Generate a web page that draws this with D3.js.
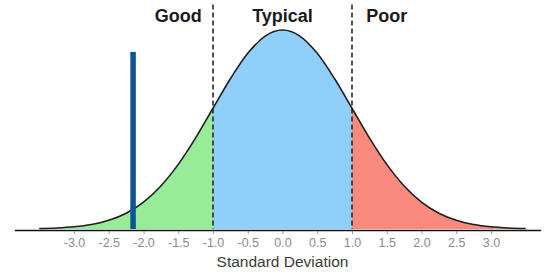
<!DOCTYPE html>
<html>
<head>
<meta charset="utf-8">
<script src="https://cdn.jsdelivr.net/npm/d3@7"></script>
<style>
  html, body { margin: 0; padding: 0; background: #fff; }
  svg { display: block; }
</style>
</head>
<body>
<script>
// ---- data ----
const sdPoints = [-3.5,-3.25,-3,-2.75,-2.5,-2.25,-2,-1.75,-1.5,-1.25,-1,-0.75,-0.5,-0.25,0,0.25,0.5,0.75,1,1.25,1.5,1.75,2,2.25,2.5,2.75,3,3.25,3.5];
const density  = [0.0009,0.0020,0.0044,0.0091,0.0175,0.0317,0.0540,0.0863,0.1295,0.1826,0.2420,0.3011,0.3521,0.3867,0.3989,0.3867,0.3521,0.3011,0.2420,0.1826,0.1295,0.0863,0.0540,0.0317,0.0175,0.0091,0.0044,0.0020,0.0009];
const tickValues = [-3,-2.5,-2,-1.5,-1,-0.5,0,0.5,1,1.5,2,2.5,3];
const regionNames = ["Good","Typical","Poor"];
const regionBounds = [[-3.5,-1],[-1,1],[1,3.5]];
const regionLabelX = [-1.5, 0, 1.5];
const regionColors = ["#98ec98","#8fcffa","#fa8a7d"];
const cutoffs = [-1, 1];
const cutoffTop = 0.45;
const markerX = -2.15;
const markerTop = 0.355;
const axisExtent = [-3.85, 3.72];
const xTitle = "Standard Deviation";

// ---- layout ----
const W = 549, H = 274;
const svg = d3.select("body").append("svg").attr("width", W).attr("height", H);

const x = d3.scaleLinear().domain([-3.5, 3.5]).range([39.25, 525.75]);
const y = d3.scaleLinear().domain([0, 0.3989]).range([229, 30]);

const pts = sdPoints.map((s, i) => ({ s, d: density[i] }));

const area = d3.area().x(p => x(p.s)).y0(y(0)).y1(p => y(p.d)).curve(d3.curveMonotoneX);
const line = d3.line().x(p => x(p.s)).y(p => y(p.d)).curve(d3.curveMonotoneX);

const defs = svg.append("defs");
regionBounds.forEach((b, i) => {
  defs.append("clipPath").attr("id", "clip" + i)
    .append("rect")
    .attr("x", x(b[0])).attr("y", 0)
    .attr("width", x(b[1]) - x(b[0])).attr("height", H);
});

regionBounds.forEach((b, i) => {
  svg.append("path").datum(pts)
    .attr("d", area)
    .attr("fill", regionColors[i])
    .attr("clip-path", `url(#clip${i})`);
});

// cutoff dashed lines
svg.selectAll("line.cut").data(cutoffs).enter().append("line")
  .attr("class", "cut")
  .attr("x1", d => x(d)).attr("x2", d => x(d))
  .attr("y1", y(cutoffTop)).attr("y2", y(0))
  .attr("stroke", "#2a2a2a").attr("stroke-width", 1.6)
  .attr("stroke-dasharray", "5,3");

// curve outline
svg.append("path").datum(pts)
  .attr("d", line)
  .attr("fill", "none")
  .attr("stroke", "#1e1e1e")
  .attr("stroke-width", 1.6);

// marker bar
svg.append("rect")
  .attr("x", x(markerX) - 2.75)
  .attr("y", y(markerTop))
  .attr("width", 5.5)
  .attr("height", y(0) - y(markerTop))
  .attr("fill", "#0e5494");

// axis line
svg.append("line")
  .attr("x1", x(axisExtent[0])).attr("x2", x(axisExtent[1]))
  .attr("y1", y(0) + 1.5).attr("y2", y(0) + 1.5)
  .attr("stroke", "#111").attr("stroke-width", 1.6);

// axis ticks
const axis = d3.axisBottom(x).tickValues(tickValues).tickSize(3).tickPadding(4)
  .tickFormat(d => d.toFixed(1));
const gAxis = svg.append("g").attr("transform", `translate(0,${y(0) + 2})`).call(axis);
gAxis.select(".domain").remove();
gAxis.selectAll(".tick line").attr("stroke", "#999");
gAxis.selectAll(".tick text")
  .attr("fill", "#8a8a8a")
  .style("font-family", "'Liberation Sans', Arial, sans-serif")
  .style("font-size", "12.5px");

// axis title
svg.append("text")
  .attr("x", x(0)).attr("y", 267)
  .attr("text-anchor", "middle")
  .attr("fill", "#3a3a3a")
  .style("font-family", "'Liberation Sans', Arial, sans-serif")
  .style("font-size", "15.5px")
  .text(xTitle);

// region labels
svg.selectAll("text.region").data(regionNames).enter().append("text")
  .attr("class", "region")
  .attr("x", (d, i) => x(regionLabelX[i]))
  .attr("y", 22)
  .attr("text-anchor", "middle")
  .attr("fill", "#1a1a1a")
  .style("font-family", "'Liberation Sans', Arial, sans-serif")
  .style("font-weight", "bold")
  .style("font-size", "18px")
  .text(d => d);
</script>
</body>
</html>
